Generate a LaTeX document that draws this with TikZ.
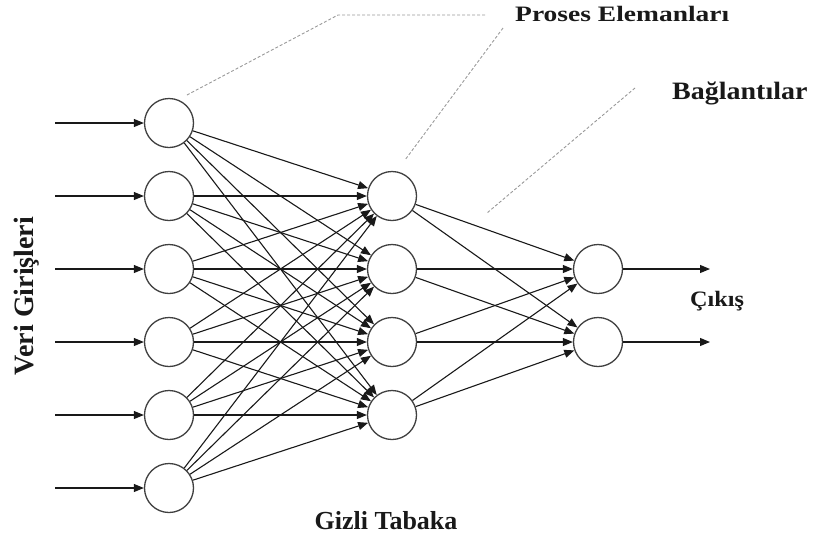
\documentclass[tikz,border=0pt]{standalone}
\usepackage{fontspec}
\setmainfont{Liberation Serif}
\usepackage{graphicx}
\usetikzlibrary{arrows.meta}
\begin{document}
\begin{tikzpicture}[x=1pt,y=-1pt,
  neuron/.style={circle,draw=black!75,line width=1.3pt,minimum size=49pt,inner sep=0pt},
  link/.style={draw=black!90,line width=1.1pt,-{Triangle[length=10pt,width=8pt]}},
  lead/.style={draw=black!40,line width=0.9pt,densely dashed},
  lbl/.style={font=\bfseries,inner sep=0pt,text=black!90}]
\useasboundingbox (0,0) rectangle (814,539);
% input layer
\foreach \k/\y in {1/123,2/196,3/269,4/342,5/415,6/488}{
  \node[neuron] (i\k) at (169,\y) {};
  \coordinate (s\k) at (55,\y);
}
% hidden layer
\foreach \k/\y in {1/196,2/269,3/342,4/415}{
  \node[neuron] (h\k) at (392,\y) {};
}
% output layer
\foreach \k/\y in {1/269,2/342}{
  \node[neuron] (o\k) at (598,\y) {};
  \coordinate (e\k) at (710,\y);
}
% connections
\foreach \k in {1,...,6}{ \draw[link] (s\k) -- (i\k); }
\foreach \a in {1,...,6}{
  \foreach \b in {1,...,4}{ \draw[link] (i\a) -- (h\b); }
}
\foreach \a in {1,...,4}{
  \foreach \b in {1,2}{ \draw[link] (h\a) -- (o\b); }
}
\foreach \k in {1,2}{ \draw[link] (o\k) -- (e\k); }
% labels
\node[lbl,anchor=base west] (pe) at (515,21)
  {\scalebox{1.25}[1]{\fontsize{22}{26}\selectfont Proses Elemanları}};
\node[lbl,anchor=base west] (bg) at (672,99)
  {\scalebox{1.12}[1]{\fontsize{25}{29}\selectfont Bağlantılar}};
\node[lbl,anchor=base west] (ck) at (690,306)
  {\scalebox{1.1}[1]{\fontsize{22}{26}\selectfont Çıkış}};
\node[lbl,anchor=base] (gt) at (386,529)
  {\fontsize{26}{30}\selectfont Gizli Tabaka};
\node[lbl,anchor=base,rotate=90] (vg) at (33,296)
  {\fontsize{28}{32}\selectfont Veri Girişleri};
% leader lines
\coordinate (l1a) at (187,95);
\coordinate (l1b) at (338,15);
\coordinate (l1c) at (487,15);
\coordinate (l2a) at (503,28);
\coordinate (l2b) at (405,160);
\coordinate (l3a) at (635,88);
\coordinate (l3b) at (487,213);
\draw[lead] (l1a) -- (l1b) -- (l1c);
\draw[lead] (l2a) -- (l2b);
\draw[lead] (l3a) -- (l3b);
\end{tikzpicture}
\end{document}
